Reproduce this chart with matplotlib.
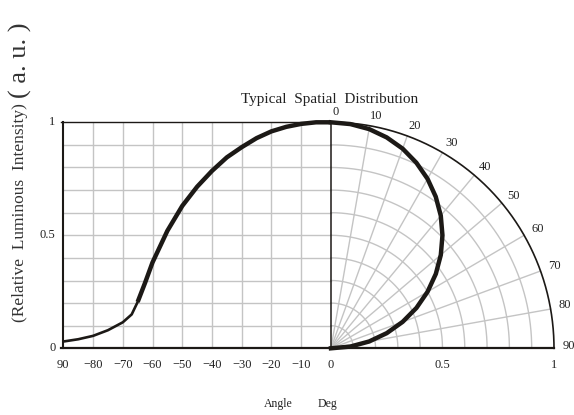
import numpy as np
import matplotlib
matplotlib.use('Agg')
import matplotlib.pyplot as plt

plt.rcParams['font.family'] = ['Liberation Serif', 'DejaVu Serif']

# left part: relative intensity vs angle (cartesian)
left_angle = [-90, -85, -80, -75, -70, -67, -65, -62.5, -60, -55, -50, -45, -40, -35, -30, -25, -20, -15, -10, -5, 0]
left_value = [0.03, 0.04, 0.055, 0.08, 0.115, 0.15, 0.205, 0.29, 0.38, 0.52, 0.63, 0.715, 0.785, 0.845, 0.89, 0.93, 0.96, 0.98, 0.993, 1.0, 1.0]
thin_until = -65

# right part: polar distribution
polar_angle = [0, 5, 10, 15, 20, 25, 30, 35, 40, 45, 50, 55, 60, 65, 70, 75, 80, 85, 90]
polar_value = [1.0, 0.996, 0.985, 0.966, 0.94, 0.906, 0.866, 0.819, 0.766, 0.707, 0.643, 0.574, 0.5, 0.423, 0.342, 0.259, 0.174, 0.087, 0.0]

x_ticks_left = [-90, -80, -70, -60, -50, -40, -30, -20, -10, 0]
x_tick_labels_left = ['90', '\u221280', '\u221270', '\u221260', '\u221250', '\u221240', '\u221230', '\u221220', '\u221210', '0']
x_ticks_right = [0.5, 1]
x_tick_labels_right = ['0.5', '1']
y_ticks = [0, 0.5, 1]
y_tick_labels = ['0', '0.5', '1']
polar_labels = [0, 10, 20, 30, 40, 50, 60, 70, 80, 90]

W, H = 574, 415
fig = plt.figure(figsize=(W / 100, H / 100), dpi=100)
ax = fig.add_axes([63.3 / W, (H - 348.3) / H, (554 - 63.3) / W, (348.3 - 122.3) / H])
ax.set_xlim(-1.2, 1)
ax.set_ylim(0, 1)
ax.axis('off')

LS = 1.2 / 90  # angle -> x units on the left side
grey = '#c4c4c4'
ink = '#1c1916'

def lx(a):
    return np.asarray(a, dtype=float) * LS

# left grid
for a in range(-80, 0, 10):
    ax.plot([lx(a), lx(a)], [0, 1], color=grey, lw=1.0, zorder=1)
for v in np.arange(1, 10) / 10:
    ax.plot([lx(-90), 0], [v, v], color=grey, lw=1.0, zorder=1)

# polar grid
th = np.linspace(0, np.pi / 2, 200)
for r in np.arange(1, 10) / 10:
    ax.plot(r * np.sin(th), r * np.cos(th), color=grey, lw=1.0, zorder=1)
for d in range(10, 90, 10):
    t = np.radians(d)
    ax.plot([0, np.sin(t)], [0, np.cos(t)], color=grey, lw=1.0, zorder=1)
ax.plot(np.sin(th), np.cos(th), color=ink, lw=1.2, zorder=3, clip_on=False)

# frame lines
ax.plot([lx(-90) - 0.012, 0], [1, 1], color=ink, lw=1.0, zorder=3, clip_on=False)
ax.plot([lx(-90), lx(-90)], [0, 1], color=ink, lw=1.5, zorder=3, clip_on=False)
ax.plot([0, 0], [0, 1], color=ink, lw=1.1, zorder=3, clip_on=False)
ax.plot([lx(-90) - 0.012, 1], [0, 0], color=ink, lw=1.6, zorder=3, clip_on=False)

# curves
la = np.array(left_angle)
lv = np.array(left_value)
thin = la <= thin_until
thick = la >= thin_until
ax.plot(lx(la[thin]), lv[thin], color=ink, lw=1.9, zorder=4, solid_capstyle='round', clip_on=False)
ax.plot(lx(la[thick]), lv[thick], color=ink, lw=3.2, zorder=4, solid_capstyle='butt', clip_on=False)
pa = np.radians(polar_angle)
pv = np.array(polar_value)
ax.plot(pv * np.sin(pa), pv * np.cos(pa), color=ink, lw=3.2, zorder=4, clip_on=False)

# tick labels
for a, s in zip(x_ticks_left, x_tick_labels_left):
    ax.text(lx(a), -0.075, s, ha='center', va='center', fontsize=9, color='#222222')
for v, s in zip(x_ticks_right, x_tick_labels_right):
    ax.text(v, -0.075, s, ha='center', va='center', fontsize=9, color='#222222')
for v, s in zip(y_ticks, y_tick_labels):
    ax.text(lx(-90) - 0.035, v, s, ha='right', va='center', fontsize=9, color='#222222')
for d in polar_labels:
    t = np.radians(d)
    ax.text(1.045 * np.sin(t) + 0.02, 1.035 * np.cos(t) + 0.01, str(d), ha='center', va='center',
            fontsize=9, color='#222222', clip_on=False)

fig.text(330 / W, 1 - 100 / H, 'Typical  Spatial  Distribution', ha='center', va='center', fontsize=11, color='#222222')
fig.text(278 / W, 1 - 404 / H, 'Angle', ha='center', va='center', fontsize=8.5, color='#222222')
fig.text(327 / W, 1 - 404 / H, 'Deg', ha='center', va='center', fontsize=8.5, color='#222222')
fig.text(20 / W, 1 - 322 / H, '(Relative  Luminous  Intensity)', rotation=90, ha='center', va='bottom',
         fontsize=12.5, color='#333333')
fig.text(20 / W, 1 - 98 / H, '( a. u. )', rotation=90, ha='center', va='bottom', fontsize=19, color='#333333')

fig.savefig('out.png', dpi=100)
